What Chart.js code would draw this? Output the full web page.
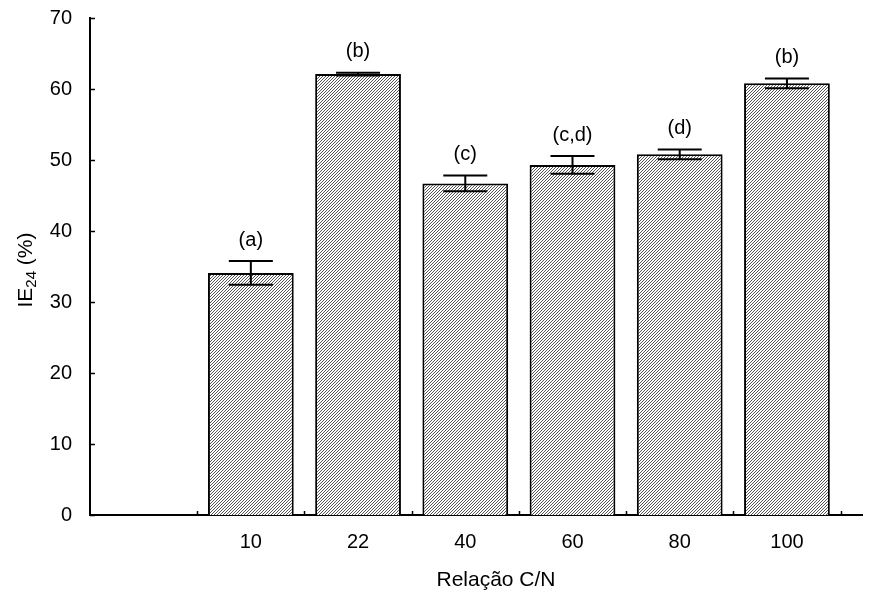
<!DOCTYPE html>
<html>
<head>
<meta charset="utf-8">
<script src="https://cdn.jsdelivr.net/npm/chart.js@4"></script>
<style>
  html, body { margin: 0; padding: 0; background: #fff; }
  #wrap { width: 888px; height: 597px; }
</style>
</head>
<body>
<div id="wrap"><canvas id="chart" width="888" height="597"></canvas></div>
<script>
// data
var categories = ['10', '22', '40', '60', '80', '100'];
var ie24Values = [34.1, 62.1, 46.7, 49.3, 50.8, 60.8];
var ie24Errors = [1.67, 0.2, 1.1, 1.25, 0.68, 0.68];
var groupLetters = ['(a)', '(b)', '(c)', '(c,d)', '(d)', '(b)'];
var yTickValues = [0, 10, 20, 30, 40, 50, 60, 70];
var xPositions = [1, 2, 3, 4, 5, 6];
var xTickMarks = [0.5, 1.5, 2.5, 3.5, 4.5, 5.5, 6.5];

var FONT = "'Liberation Sans', Arial, Helvetica, sans-serif";

// hatch fill like the original plot
function makeHatch() {
    var c = document.createElement('canvas');
    c.width = 3; c.height = 3;
    var g = c.getContext('2d');
    g.fillStyle = '#fff';
    g.fillRect(0, 0, 3, 3);
    g.fillStyle = '#555';
    for (var i = 0; i < 3; i++) {
        g.fillRect(2 - i, i, 1, 1);
    }
    return document.getElementById('chart').getContext('2d').createPattern(c, 'repeat');
}

// error bars, letters, inward tick marks, axis titles
var extras = {
    id: 'extras',
    afterDatasetsDraw: function(chart) {
        var ctx = chart.ctx;
        var x = chart.scales.x, y = chart.scales.y;
        var meta = chart.getDatasetMeta(0);
        ctx.save();
        ctx.strokeStyle = '#000';
        ctx.lineWidth = 2;
        meta.data.forEach(function(bar, i) {
            var px = bar.x;
            var top = y.getPixelForValue(ie24Values[i] + ie24Errors[i]);
            var bot = y.getPixelForValue(ie24Values[i] - ie24Errors[i]);
            ctx.beginPath();
            ctx.moveTo(px, top); ctx.lineTo(px, bot);
            ctx.moveTo(px - 22, top); ctx.lineTo(px + 22, top);
            ctx.moveTo(px - 22, bot); ctx.lineTo(px + 22, bot);
            ctx.stroke();
            ctx.fillStyle = '#000';
            ctx.font = '20px ' + FONT;
            ctx.textAlign = 'center';
            ctx.textBaseline = 'middle';
            ctx.fillText(groupLetters[i], px, top - 21);
        });

        // tick marks pointing into the plot
        ctx.lineWidth = 1.5;
        ctx.beginPath();
        xTickMarks.forEach(function(v) {
            var px = Math.round(x.getPixelForValue(v)) + 0.5;
            ctx.moveTo(px, y.bottom); ctx.lineTo(px, y.bottom - 4);
        });
        yTickValues.forEach(function(v) {
            var py = Math.round(y.getPixelForValue(v)) + 0.5;
            ctx.moveTo(x.left, py); ctx.lineTo(x.left + 5, py);
        });
        ctx.stroke();

        // x title, centred on the bars rather than on the axis
        ctx.font = '21px ' + FONT;
        ctx.textAlign = 'center';
        ctx.textBaseline = 'middle';
        ctx.fillText('Relação C/N', 496, 580);

        // y title: IE24 (%)
        ctx.translate(25, 270);
        ctx.rotate(-Math.PI / 2);
        ctx.textBaseline = 'alphabetic';
        ctx.textAlign = 'left';
        ctx.font = '21px ' + FONT;
        var w1 = ctx.measureText('IE').width;
        ctx.font = '15px ' + FONT;
        var w2 = ctx.measureText('24').width;
        ctx.font = '21px ' + FONT;
        var w3 = ctx.measureText(' (%)').width;
        var start = -(w1 + w2 + w3) / 2;
        ctx.fillText('IE', start, 7);
        ctx.font = '15px ' + FONT;
        ctx.fillText('24', start + w1, 11);
        ctx.font = '21px ' + FONT;
        ctx.fillText(' (%)', start + w1 + w2, 7);
        ctx.restore();
    }
};

var myChart = new Chart(document.getElementById('chart'), {
    type: 'bar',
    data: {
        datasets: [{
            data: xPositions.map(function(p, i) { return { x: p, y: ie24Values[i] }; }),
            backgroundColor: makeHatch(),
            borderColor: '#000',
            borderWidth: 2,
            borderSkipped: 'start',
            barPercentage: 0.8,
            categoryPercentage: 1
        }]
    },
    options: {
        responsive: false,
        animation: false,
        layout: { padding: { left: 0, top: 18, right: 26, bottom: 0 } },
        plugins: { legend: { display: false }, tooltip: { enabled: false } },
        scales: {
            x: {
                type: 'linear',
                offset: false,
                min: -0.5,
                max: 6.7,
                grid: { display: false },
                border: { display: true, color: '#000', width: 2 },
                afterBuildTicks: function(scale) {
                    scale.ticks = xPositions.map(function(v) { return { value: v }; });
                },
                ticks: {
                    color: '#000',
                    font: { family: FONT, size: 20 },
                    padding: 7,
                    maxRotation: 0,
                    autoSkip: false,
                    callback: function(v) { return categories[v - 1]; }
                },
                afterFit: function(scale) {
                    scale.height = 82;
                    scale.paddingLeft = 0;
                    scale.paddingRight = 0;
                }
            },
            y: {
                min: 0,
                max: 70,
                grid: { display: false },
                border: { display: true, color: '#000', width: 2 },
                afterBuildTicks: function(scale) {
                    scale.ticks = yTickValues.map(function(v) { return { value: v }; });
                },
                ticks: {
                    color: '#000',
                    font: { family: FONT, size: 20 },
                    padding: 10
                },
                afterFit: function(scale) {
                    scale.width = 90;
                    scale.paddingTop = 0;
                    scale.paddingBottom = 0;
                }
            }
        }
    },
    plugins: [extras]
});
</script>
</body>
</html>
